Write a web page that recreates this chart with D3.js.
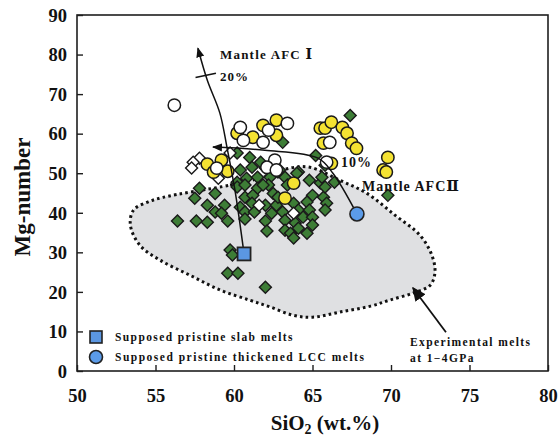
<!DOCTYPE html>
<html><head><meta charset="utf-8">
<script src="https://cdn.jsdelivr.net/npm/d3@7"></script>
<style>
html,body{margin:0;padding:0;background:#fff;}
text{font-family:"Liberation Serif","Times New Roman",serif;font-weight:bold;fill:#111;}
</style></head>
<body><svg id="c" width="558" height="439"></svg>
<script>
const xTicks = [50,55,60,65,70,75,80];
const yTicks = [0,10,20,30,40,50,60,70,80,90];

const greenDiamonds = [
[67.4,64.6],[63.1,57.8],[60.2,55.1],[61.0,54.0],[65.2,54.5],[61.7,52.8],[65.8,52.0],[60.4,50.8],
[61.15,51.5],[62.0,51.3],[62.8,50.3],[64.1,50.3],[62.3,49.0],[60.2,47.7],[60.8,48.7],[61.5,49.0],
[63.25,49.0],[64.0,50.0],[64.8,48.2],[65.5,47.5],[66.4,47.7],[62.2,47.0],[63.4,47.0],[57.8,46.2],
[57.5,43.7],[58.8,44.9],[60.2,46.5],[60.7,47.0],[61.5,46.2],[61.85,47.0],[60.7,43.9],[61.2,44.4],
[62.5,44.9],[65.0,44.4],[65.7,43.9],[65.9,42.4],[58.3,41.9],[59.4,41.9],[58.8,40.2],[59.2,39.9],
[60.4,41.4],[60.7,40.2],[61.15,42.4],[61.3,40.2],[62.0,41.9],[62.7,41.9],[62.4,39.9],[63.1,40.2],
[63.8,42.4],[64.1,40.7],[64.65,42.7],[64.8,40.7],[60.7,38.4],[56.4,37.9],[57.6,37.9],[58.3,37.6],
[59.6,37.9],[62.0,37.9],[62.1,35.4],[63.25,38.1],[63.9,37.4],[64.4,38.9],[65.0,38.9],[63.25,35.6],
[63.6,34.8],[64.1,36.1],[64.65,34.8],[63.8,33.6],[65.0,36.9],[65.8,40.7],[59.75,30.6],[59.9,29.3],
[59.6,24.7],[60.25,24.7],[62.0,21.2],[69.8,44.4],[62.8,43.9],[62.9,50.8],[65.8,46.5],[65.6,49.0]
];
const whiteDiamonds = [[57.8,53.8],[57.4,52.8],[57.3,51.3],[59.0,48.7],[59.75,55.1],[61.6,41.9],[63.8,39.9]];
const yellowCircles = [
[58.3,52.3],[59.2,53.3],[59.6,50.5],[58.7,50.3],[60.2,60.1],[61.2,59.1],[61.85,62.1],[62.7,63.4],
[62.7,59.6],[65.5,61.4],[65.8,61.4],[66.2,62.9],[66.9,61.6],[67.2,60.1],[65.7,57.6],[67.5,57.6],
[67.8,56.3],[69.8,54.0],[69.5,50.8],[69.7,50.3],[63.8,47.5],[63.25,43.7],[66.2,52.5]
];
const whiteCircles = [
[56.2,67.2],[60.4,61.6],[60.6,58.3],[62.2,60.9],[61.85,57.8],[62.6,53.3],[62.1,51.5],[62.7,50.8],
[58.9,51.3],[63.4,62.6],[66.1,57.8],[65.9,52.8]
];
const slabMelt = [60.64,29.6];
const lccMelt = [67.83,39.7];
const expMelts = [
[55.48,43.9],[59.75,47.0],[61.85,49.0],[63.57,51.3],[64.84,51.5],[66.75,48.2],[68.47,44.9],[70.25,39.4],
[71.85,34.3],[72.6,29.3],[72.8,25.0],[72.5,21.7],[71.4,19.7],[69.9,17.9],[68.7,16.4],[66.75,14.9],
[65.0,13.6],[63.76,14.1],[62.3,16.2],[61.0,17.9],[59.1,20.5],[57.2,24.2],[55.3,28.0],[54.0,31.8],
[53.4,36.9],[53.6,40.7],[54.5,42.7]
];
const afc1 = [[60.64,29.6],[60.06,45.7],[59.55,56.6],[59.1,65.2],[58.3,73.5],[57.7,81.6]];
const afc1Tick = [[57.55,74.2],[58.85,75.3]];
const afc2 = [[67.83,39.7],[66.3,50.0],[65.35,53.8],[61.97,55.8],[58.66,56.6]];
const expArrow = [[73.5,9.8],[71.4,21.0]];

const svg = d3.select("#c");
const x = d3.scaleLinear().domain([50,80]).range([77,548]);
const y = d3.scaleLinear().domain([0,90]).range([371,15]);
const ink = "#1e1e1e";

const defs = svg.append("defs");
defs.append("marker").attr("id","arr").attr("viewBox","0 0 10 10")
  .attr("refX",9).attr("refY",5).attr("markerWidth",10).attr("markerHeight",10)
  .attr("markerUnits","userSpaceOnUse").attr("orient","auto")
  .append("path").attr("d","M0,1 L10,5 L0,9 Z").attr("fill","#111");
defs.append("marker").attr("id","arr2").attr("viewBox","0 0 10 10")
  .attr("refX",9).attr("refY",5).attr("markerWidth",14).attr("markerHeight",14)
  .attr("markerUnits","userSpaceOnUse").attr("orient","auto")
  .append("path").attr("d","M0,0.5 L10,5 L0,9.5 Z").attr("fill","#111");

// experimental melts field
const closed = d3.line().x(d=>x(d[0])).y(d=>y(d[1])).curve(d3.curveCatmullRomClosed.alpha(0.5));
svg.append("path").attr("d",closed(expMelts)).attr("fill","#dfe0e2")
  .attr("stroke","#111").attr("stroke-width",3).attr("stroke-dasharray","2.6,3.2");

// diamonds
const dsym = d3.symbol().type(d3.symbolSquare).size(72);
function diamonds(data, fill){
  svg.append("g").selectAll("path").data(data).join("path")
    .attr("d",dsym).attr("transform",d=>`translate(${x(d[0])},${y(d[1])}) rotate(45)`)
    .attr("fill",fill).attr("stroke","#1a1a1a").attr("stroke-width",1.4);
}
diamonds(greenDiamonds,"#3d7d36");
diamonds(whiteDiamonds,"#ffffff");

function circles(data, fill){
  svg.append("g").selectAll("circle").data(data).join("circle")
    .attr("cx",d=>x(d[0])).attr("cy",d=>y(d[1])).attr("r",6.2)
    .attr("fill",fill).attr("stroke","#1a1a1a").attr("stroke-width",1.5);
}
circles(yellowCircles,"#f4e232");
circles(whiteCircles,"#ffffff");

// AFC curves
const cl = d3.line().x(d=>x(d[0])).y(d=>y(d[1])).curve(d3.curveCatmullRom.alpha(0.5));
svg.append("path").attr("d",cl(afc1)).attr("fill","none").attr("stroke","#111").attr("stroke-width",1.5).attr("marker-end","url(#arr)");
svg.append("path").attr("d",d3.line().x(d=>x(d[0])).y(d=>y(d[1]))(afc1Tick)).attr("stroke","#111").attr("stroke-width",1.5);
svg.append("path").attr("d",cl(afc2)).attr("fill","none").attr("stroke","#111").attr("stroke-width",1.5).attr("marker-end","url(#arr)");
svg.append("path").attr("d",d3.line().x(d=>x(d[0])).y(d=>y(d[1]))(expArrow)).attr("stroke","#111").attr("stroke-width",1.8).attr("marker-end","url(#arr2)");

// end-members
svg.append("rect").attr("x",x(slabMelt[0])-6.5).attr("y",y(slabMelt[1])-6.5).attr("width",13).attr("height",13)
  .attr("fill","#5b97e2").attr("stroke","#222").attr("stroke-width",1.8);
svg.append("circle").attr("cx",x(lccMelt[0])).attr("cy",y(lccMelt[1])).attr("r",7)
  .attr("fill","#5b9be8").attr("stroke","#222").attr("stroke-width",1.6);

// frame & axes
svg.append("rect").attr("x",77).attr("y",15).attr("width",471).attr("height",356)
  .attr("fill","none").attr("stroke",ink).attr("stroke-width",1.6);
const xa = svg.append("g").attr("transform","translate(0,371)")
  .call(d3.axisTop(x).tickValues(xTicks).tickSize(6).tickSizeOuter(0).tickFormat(d3.format("d")));
xa.select(".domain").remove();
xa.selectAll("line").attr("stroke",ink).attr("stroke-width",1.4);
xa.selectAll("text").attr("y",31).attr("dy",0).style("font-size","18.5px").attr("fill","#111");
const ya = svg.append("g").attr("transform","translate(77,0)")
  .call(d3.axisRight(y).tickValues(yTicks).tickSize(6).tickSizeOuter(0).tickFormat(d3.format("d")));
ya.select(".domain").remove();
ya.selectAll("line").attr("stroke",ink).attr("stroke-width",1.4);
ya.selectAll("text").attr("x",-10).attr("dy","0.34em").attr("text-anchor","end").style("font-size","18.5px").attr("fill","#111");

// axis titles
const xt = svg.append("text").attr("x",325).attr("y",430).attr("text-anchor","middle").style("font-size","21px");
xt.append("tspan").text("SiO");
xt.append("tspan").attr("dy",4).style("font-size","14px").text("2");
xt.append("tspan").attr("dy",-4).text(" (wt.%)");
svg.append("text").attr("transform","translate(30,197) rotate(-90)").attr("text-anchor","middle")
  .style("font-size","23px").text("Mg-number");

// annotations
function label(t,px,py,fs,ls){
  return svg.append("text").attr("x",px).attr("y",py).style("font-size",fs+"px").style("letter-spacing",ls+"px").text(t);
}
function labelNum(t,num,px,py,fs,ls){
  const el = svg.append("text").attr("x",px).attr("y",py).style("font-size",fs+"px").style("letter-spacing",ls+"px");
  el.append("tspan").text(t);
  el.append("tspan").style("font-family","'DejaVu Serif',serif").style("font-size",(fs+1)+"px").text(num);
  return el;
}
labelNum("Mantle AFC ","Ⅰ",220,59,13,1.2);
label("20%",220,81,13,1);
label("10%",341,167,14,1);
labelNum("Mantle AFC","Ⅱ",362,191,14,1);
label("Experimental melts",410,346,11.5,1.4);
label("at 1\u22124GPa",410,362,11.5,1.4);

// legend
svg.append("rect").attr("x",90).attr("y",331).attr("width",12).attr("height",12)
  .attr("fill","#5b97e2").attr("stroke","#222").attr("stroke-width",1.6);
svg.append("circle").attr("cx",96).attr("cy",357).attr("r",6.5)
  .attr("fill","#5b9be8").attr("stroke","#222").attr("stroke-width",1.6);
label("Supposed pristine slab melts",115,341,11.5,1.4);
label("Supposed pristine thickened LCC melts",115,361,11.5,1.5);
</script></body></html>
